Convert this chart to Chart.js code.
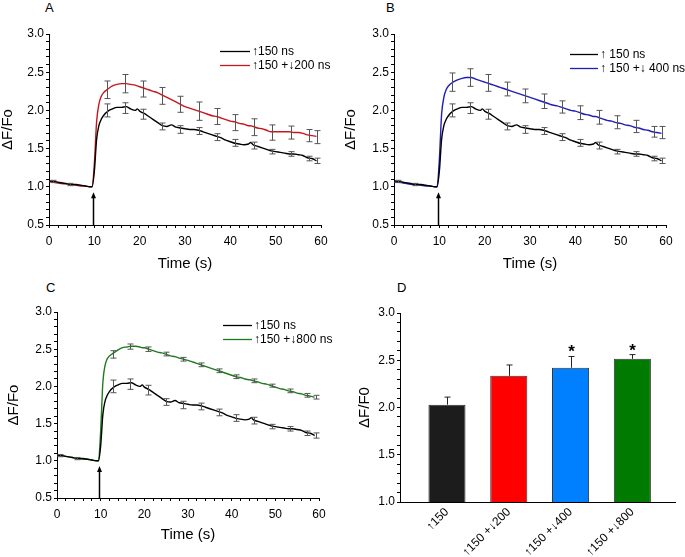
<!DOCTYPE html>
<html>
<head>
<meta charset="utf-8">
<script src="https://cdn.jsdelivr.net/npm/chart.js@4.4.0/dist/chart.umd.min.js"></script>
<style>
body { margin: 0; background: #fff; }
#wrap { position: relative; width: 685px; height: 557px; font-family: Arial, "Liberation Sans", sans-serif; }
#wrap canvas { position: absolute; }
.tag { position: absolute; font-size: 13px; line-height: 13px; color: #000; }
</style>
</head>
<body>
<div id="wrap">
  <div class="tag" style="left:45px;top:1px">A</div>
  <div class="tag" style="left:386px;top:1px">B</div>
  <div class="tag" style="left:46px;top:281px">C</div>
  <div class="tag" style="left:397px;top:281px">D</div>
  <canvas id="chartA" width="340" height="280" style="left:0;top:0"></canvas>
  <canvas id="chartB" width="345" height="280" style="left:340px;top:0"></canvas>
  <canvas id="chartC" width="340" height="277" style="left:0;top:280px"></canvas>
  <canvas id="chartD" width="345" height="277" style="left:340px;top:280px"></canvas>
</div>
<script>
// ---- data ----
const time = [0, 1, 2, 3, 4, 5, 6, 7, 8, 9, 9.5, 10, 10.5, 11, 11.5, 12, 13, 14, 15, 16, 17, 18, 19, 19.5, 20,
  21, 22, 23, 24, 25, 26, 27, 28, 29, 30, 31, 32, 33, 34, 35, 36, 37, 38, 39, 40,
  41, 42, 43, 44, 44.5, 45, 46, 47, 48, 49, 50, 51, 52, 53, 54, 55, 56, 57, 58, 59];

// 150 ns alone (same trace in A, B, C)
const trace150 = [1.08, 1.07, 1.06, 1.05, 1.04, 1.03, 1.03, 1.02, 1.01, 1.0, 1.0, 1.2, 1.62, 1.8, 1.88, 1.93, 1.99, 2.02, 2.04, 2.04, 2.05, 2.02, 2.0, 2.02, 1.99,
  1.96, 1.92, 1.88, 1.84, 1.80, 1.79, 1.81, 1.78, 1.77, 1.76, 1.75, 1.75, 1.74, 1.72, 1.70, 1.68, 1.66, 1.64, 1.61, 1.59,
  1.57, 1.56, 1.55, 1.56, 1.58, 1.55, 1.53, 1.51, 1.49, 1.47, 1.46, 1.45, 1.44, 1.43, 1.43, 1.42, 1.41, 1.38, 1.37, 1.34];

const trace200 = [1.07, 1.06, 1.05, 1.04, 1.04, 1.03, 1.02, 1.01, 1.01, 1.0, 1.0, 1.3, 1.85, 2.08, 2.18, 2.23, 2.28, 2.32, 2.34, 2.35, 2.35, 2.34, 2.33, 2.32, 2.31,
  2.29, 2.27, 2.25, 2.23, 2.20, 2.17, 2.14, 2.11, 2.08, 2.05, 2.03, 2.01, 1.99, 1.97, 1.95, 1.93, 1.92, 1.90, 1.88, 1.86,
  1.85, 1.83, 1.82, 1.80, 1.80, 1.79, 1.77, 1.76, 1.74, 1.72, 1.72, 1.72, 1.72, 1.72, 1.71, 1.71, 1.70, 1.68, 1.67, 1.66];

const trace400 = [1.06, 1.06, 1.05, 1.04, 1.03, 1.03, 1.02, 1.01, 1.01, 1.0, 1.0, 1.35, 1.95, 2.17, 2.27, 2.32, 2.37, 2.40, 2.42, 2.43, 2.43, 2.41, 2.39, 2.38, 2.37,
  2.35, 2.33, 2.31, 2.29, 2.27, 2.25, 2.23, 2.21, 2.19, 2.17, 2.15, 2.13, 2.11, 2.09, 2.07, 2.06, 2.04, 2.02, 2.00, 1.99,
  1.97, 1.95, 1.94, 1.92, 1.92, 1.91, 1.89, 1.87, 1.86, 1.84, 1.83, 1.81, 1.80, 1.78, 1.77, 1.75, 1.74, 1.72, 1.71, 1.70];

const trace800 = [1.07, 1.07, 1.06, 1.05, 1.04, 1.03, 1.02, 1.02, 1.01, 1.0, 1.0, 1.4, 2.05, 2.28, 2.37, 2.41, 2.45, 2.49, 2.52, 2.53, 2.54, 2.54, 2.53, 2.52, 2.52,
  2.50, 2.48, 2.46, 2.45, 2.43, 2.41, 2.40, 2.38, 2.365, 2.35, 2.33, 2.31, 2.29, 2.27, 2.25, 2.23, 2.21, 2.19, 2.17, 2.15,
  2.13, 2.12, 2.10, 2.09, 2.085, 2.075, 2.06, 2.04, 2.03, 2.01, 1.99, 1.97, 1.96, 1.94, 1.93, 1.91, 1.90, 1.88, 1.87, 1.855];

// error bars (mean +/- SEM) at sampled times
const errTime150 = [0.8, 4.6, 12.8, 16.8, 20.8, 24.9, 28.9, 33, 37.1, 41.1, 45.2, 49.3, 53.4, 57.3, 59.2];
const mean150 = [1.07, 1.03, 2.0, 2.03, 1.95, 1.79, 1.75, 1.73, 1.65, 1.575, 1.54, 1.46, 1.43, 1.37, 1.34];
const sem150 = [0.015, 0.015, 0.085, 0.07, 0.065, 0.045, 0.05, 0.045, 0.045, 0.045, 0.045, 0.03, 0.03, 0.03, 0.035];

const errTime = [12.8, 16.8, 20.8, 24.9, 28.9, 33, 37.1, 41.1, 45.2, 49.3, 53.4, 57.3, 59.2];
const mean200 = [2.27, 2.35, 2.28, 2.19, 2.08, 1.99, 1.92, 1.84, 1.78, 1.71, 1.71, 1.67, 1.65];
const sem200 = [0.115, 0.12, 0.105, 0.11, 0.105, 0.12, 0.105, 0.105, 0.11, 0.10, 0.085, 0.08, 0.085];
const mean400 = [2.37, 2.43, 2.36, 2.28, 2.19, 2.12, 2.045, 1.97, 1.91, 1.845, 1.79, 1.72, 1.71];
const sem400 = [0.12, 0.115, 0.11, 0.09, 0.09, 0.095, 0.08, 0.09, 0.09, 0.085, 0.08, 0.07, 0.08];
const mean800 = [2.43, 2.535, 2.50, 2.435, 2.365, 2.29, 2.21, 2.13, 2.075, 2.01, 1.94, 1.88, 1.855];
const sem800 = [0.05, 0.035, 0.03, 0.025, 0.025, 0.025, 0.025, 0.025, 0.025, 0.02, 0.025, 0.025, 0.025];

const stimTime = 9.7;     // stimulus arrow
const arrowTop = 0.93;

// panel D: peak amplitude
const barLabels = ['\u2191150', '\u2191150 +\u2193200', '\u2191150 +\u2193400', '\u2191150 +\u2193800'];
const barMeans = [2.03, 2.335, 2.42, 2.515];
const barSem = [0.08, 0.115, 0.12, 0.045];
const barSig = ['', '', '*', '*'];

const FONT = 'Arial, "Liberation Sans", sans-serif';
Chart.defaults.font.family = FONT;
Chart.defaults.color = '#000';

// error bars, stim arrow, star marks and mini legend
const extras = {
  id: 'extras',
  afterDatasetsDraw(chart, args, opts) {
    const ctx = chart.ctx;
    const xs = chart.scales.x, ys = chart.scales.y;
    ctx.save();
    (opts.err || []).forEach(set => {
      ctx.strokeStyle = set.color;
      ctx.lineWidth = 1;
      set.x.forEach((xv, i) => {
        const px = Math.round(xs.getPixelForValue(xv)) + 0.5;
        const top = ys.getPixelForValue(set.y[i] + set.e[i]);
        const bot = set.upOnly ? ys.getPixelForValue(set.y[i]) : ys.getPixelForValue(set.y[i] - set.e[i]);
        ctx.beginPath();
        ctx.moveTo(px, top); ctx.lineTo(px, bot);
        ctx.moveTo(px - set.cap, top); ctx.lineTo(px + set.cap, top);
        if (!set.upOnly) { ctx.moveTo(px - set.cap, bot); ctx.lineTo(px + set.cap, bot); }
        ctx.stroke();
        if (set.marks && set.marks[i]) {
          ctx.fillStyle = '#000';
          ctx.font = 'bold 17px ' + FONT;
          ctx.textAlign = 'center';
          ctx.textBaseline = 'alphabetic';
          ctx.fillText(set.marks[i], px, top + 1);
        }
      });
    });
    if (opts.arrow) {
      const ax = Math.round(xs.getPixelForValue(opts.arrow.x)) + 0.5;
      const ab = chart.chartArea.bottom;
      const at = ys.getPixelForValue(opts.arrow.top);
      ctx.strokeStyle = '#000'; ctx.fillStyle = '#000'; ctx.lineWidth = 1.5;
      ctx.beginPath(); ctx.moveTo(ax, ab); ctx.lineTo(ax, at + 4); ctx.stroke();
      ctx.beginPath(); ctx.moveTo(ax, at); ctx.lineTo(ax - 2.5, at + 6); ctx.lineTo(ax + 2.5, at + 6); ctx.closePath(); ctx.fill();
    }
    if (opts.legend) {
      const lg = opts.legend;
      ctx.font = '12px ' + FONT;
      ctx.textAlign = 'left';
      ctx.textBaseline = 'middle';
      chart.data.datasets.forEach((ds, i) => {
        const y = lg.y + i * lg.gap + 0.5;
        ctx.strokeStyle = ds.borderColor; ctx.lineWidth = 1.3;
        ctx.beginPath(); ctx.moveTo(lg.x1, y); ctx.lineTo(lg.x2, y); ctx.stroke();
        ctx.fillStyle = '#000';
        ctx.fillText(ds.label, lg.x2 + 2, y);
      });
    }
    ctx.restore();
  }
};

function halfStep(v) {
  return Math.abs(v * 2 - Math.round(v * 2)) < 1e-6;
}

function lineChart(id, box, colorLabel, colorTrace, color, err, legend) {
  const cv = document.getElementById(id);
  const W = cv.width, H = cv.height;
  return new Chart(cv, {
    type: 'line',
    data: {
      datasets: [
        { label: box.blackLabel, data: time.map((t, i) => ({ x: t, y: trace150[i] })),
          borderColor: '#000', borderWidth: 1.4, pointRadius: 0, cubicInterpolationMode: 'monotone' },
        { label: colorLabel, data: time.map((t, i) => ({ x: t, y: colorTrace[i] })),
          borderColor: color, borderWidth: 1.4, pointRadius: 0, cubicInterpolationMode: 'monotone' }
      ]
    },
    options: {
      responsive: false,
      animation: false,
      layout: { padding: { left: 0, top: box.T, right: W - box.R, bottom: 0 } },
      scales: {
        x: {
          type: 'linear', min: 0, max: 60,
          ticks: { stepSize: 2, autoSkip: false, maxRotation: 0, padding: 6, font: { size: 12 },
            callback: v => (v % 10 === 0 ? String(v) : '') },
          grid: { drawOnChartArea: false, tickLength: 3, color: '#000' },
          border: { color: '#000', width: 1 },
          title: { display: true, text: 'Time (s)', font: { size: 15, lineHeight: 1 }, padding: { top: 0, bottom: box.xTitlePad } },
          afterFit: s => { s.height = H - box.B; s.paddingLeft = 0; s.paddingRight = 0; }
        },
        y: {
          min: 0.5, max: 3.0,
          ticks: { stepSize: 0.1, autoSkip: false, padding: 2, font: { size: 12 },
            callback: v => (halfStep(v) ? v.toFixed(1) : '') },
          grid: { drawOnChartArea: false, tickLength: 3, color: '#000' },
          border: { color: '#000', width: 1 },
          title: { display: true, text: '\u0394F/Fo', font: { size: 15, lineHeight: 1 }, padding: { top: box.yTitlePad, bottom: 0 } },
          afterFit: s => { s.width = box.L; s.paddingTop = 0; s.paddingBottom = 0; }
        }
      },
      plugins: {
        legend: { display: false },
        tooltip: { enabled: false },
        extras: {
          err: [
            { x: errTime150, y: mean150, e: sem150, color: '#555', cap: 3 },
            { x: errTime, y: err.mean, e: err.sem, color: '#555', cap: 3 }
          ],
          arrow: { x: stimTime, top: arrowTop },
          legend: legend
        }
      }
    },
    plugins: [extras]
  });
}

lineChart('chartA', { L: 49, T: 34, R: 321, B: 225, xTitlePad: 9, yTitlePad: 0, blackLabel: '\u2191150 ns' },
  '\u2191150 +\u2193200 ns', trace200, '#c8161d', { mean: mean200, sem: sem200 },
  { x1: 220, x2: 250, y: 51, gap: 14 });

lineChart('chartB', { L: 54, T: 34, R: 326, B: 225, xTitlePad: 9, yTitlePad: 3, blackLabel: '\u2191 150 ns' },
  '\u2191 150 +\u2193 400 ns', trace400, '#1f1fb4', { mean: mean400, sem: sem400 },
  { x1: 230, x2: 258, y: 54, gap: 14 });

lineChart('chartC', { L: 57, T: 32, R: 319, B: 218, xTitlePad: 15, yTitlePad: 6, blackLabel: '\u2191150 ns' },
  '\u2191150 +\u2193800 ns', trace800, '#1f7a1f', { mean: mean800, sem: sem800 },
  { x1: 223, x2: 252, y: 45, gap: 14 });

// panel D bar chart
(function () {
  const cv = document.getElementById('chartD');
  const W = cv.width, H = cv.height;
  const box = { L: 60, T: 33, R: 335, B: 222 };
  new Chart(cv, {
    type: 'bar',
    data: {
      datasets: [{
        data: barMeans.map((v, i) => ({ x: i + 1, y: v })),
        backgroundColor: ['#1c1c1c', '#ff0000', '#0080ff', '#007a00'],
        borderColor: '#333', borderWidth: 1, borderSkipped: false,
        barPercentage: 0.6, categoryPercentage: 1
      }]
    },
    options: {
      responsive: false,
      animation: false,
      layout: { padding: { left: 0, top: box.T, right: W - box.R, bottom: 0 } },
      scales: {
        x: {
          type: 'linear', min: 0.24, max: 4.69, offset: false,
          afterBuildTicks: s => { s.ticks = barLabels.map((_, i) => ({ value: i + 1 })); },
          ticks: { autoSkip: false, minRotation: 45, maxRotation: 45, padding: 3, font: { size: 12 },
            callback: v => barLabels[v - 1] },
          grid: { display: false, drawTicks: false },
          border: { color: '#000', width: 1 },
          afterFit: s => { s.height = H - box.B; s.paddingLeft = 0; s.paddingRight = 0; }
        },
        y: {
          min: 1.0, max: 3.0,
          ticks: { stepSize: 0.1, autoSkip: false, padding: 2, font: { size: 12 },
            callback: v => (halfStep(v) ? v.toFixed(1) : '') },
          grid: { drawOnChartArea: false, tickLength: 3, color: '#000' },
          border: { color: '#000', width: 1 },
          title: { display: true, text: '\u0394F/F0', font: { size: 15, lineHeight: 1 }, padding: { top: 17, bottom: 0 } },
          afterFit: s => { s.width = box.L; s.paddingTop = 0; s.paddingBottom = 0; }
        }
      },
      plugins: {
        legend: { display: false },
        tooltip: { enabled: false },
        extras: {
          err: [{ x: barMeans.map((_, i) => i + 1), y: barMeans, e: barSem, color: '#222', cap: 3, upOnly: true, marks: barSig }]
        }
      }
    },
    plugins: [extras]
  });
})();
</script>
</body>
</html>
